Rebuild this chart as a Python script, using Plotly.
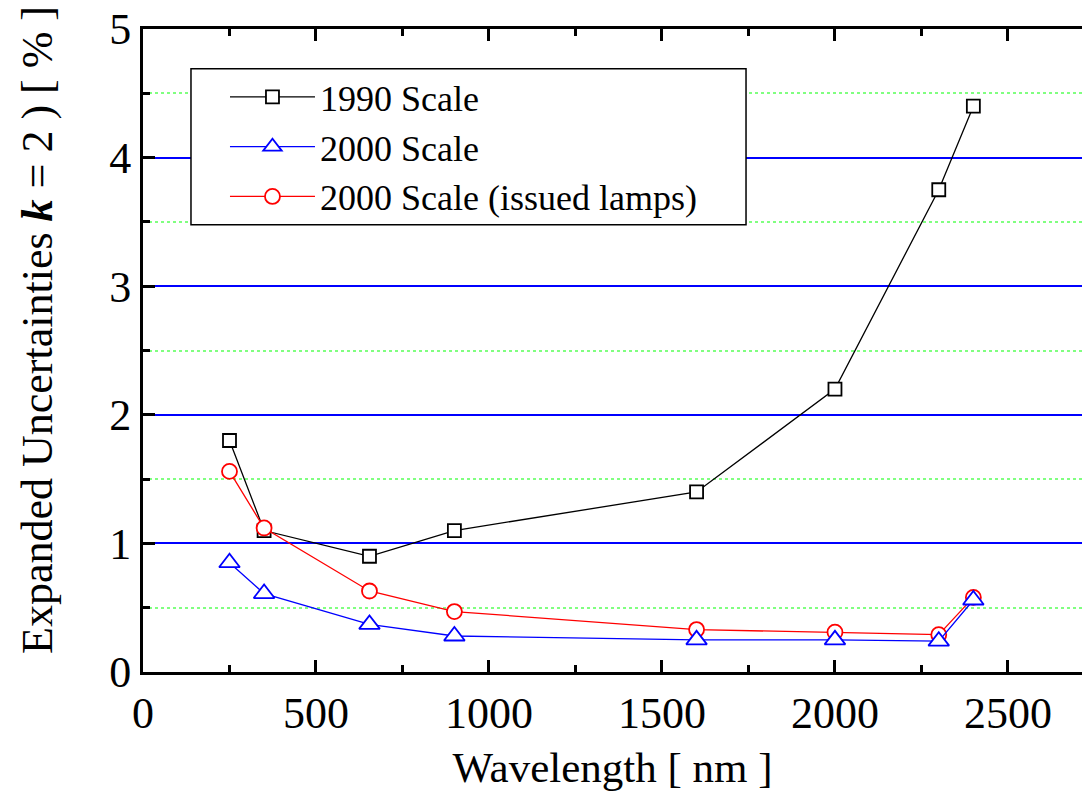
import plotly.graph_objects as go

# Wavelengths (nm) and expanded uncertainties (k = 2, %)
wavelength = [250, 350, 654.6, 900, 1600, 2000, 2300, 2400]
scale_1990 = [1.80, 1.10, 0.90, 1.10, 1.40, 2.20, 3.75, 4.40]
scale_2000 = [0.85, 0.61, 0.37, 0.28, 0.25, 0.25, 0.24, 0.56]
scale_2000_lamps = [1.56, 1.12, 0.63, 0.47, 0.33, 0.31, 0.29, 0.58]

# (name, values, colour, symbol, size, legend rank); drawn in this order
series = [
    ("1990 Scale", scale_1990, "#000000", "square", 13, 1),
    ("2000 Scale (issued lamps)", scale_2000_lamps, "#ff0000", "circle", 15, 3),
    ("2000 Scale", scale_2000, "#0000ff", "triangle-up", 18, 2),
]

FONT = "Liberation Serif"

fig = go.Figure()
for name, vals, color, symbol, size, rank in series:
    fig.add_trace(go.Scatter(
        x=wavelength, y=vals, name=name, mode="lines+markers",
        legendrank=rank,
        line=dict(color=color, width=1.3),
        marker=dict(symbol=symbol, size=size, color="white",
                    line=dict(color=color, width=1.8)),
    ))

# Framed legend panel
fig.add_shape(
    type="rect", xref="paper", yref="paper",
    x0=0.0511, x1=0.6422, y0=0.6954, y1=0.9382,
    line=dict(color="black", width=1.5), fillcolor="white", layer="above",
)

fig.update_layout(
    width=1082, height=793,
    margin=dict(l=143, r=0, t=29, b=121),
    plot_bgcolor="white", paper_bgcolor="white",
    font=dict(family=FONT, color="black", size=40),
    showlegend=True,
    legend=dict(
        x=0.0873, y=0.941, xanchor="left", yanchor="top",
        bgcolor="rgba(0,0,0,0)", borderwidth=0,
        font=dict(family=FONT, size=36, color="black"),
        itemwidth=85, tracegroupgap=0,
    ),
    annotations=[dict(
        text="Expanded Uncertainties <b><i>k</i></b> = 2 ) [ % ]",
        xref="paper", yref="paper", x=-0.1118, y=0.532,
        xanchor="center", yanchor="middle", textangle=-90,
        showarrow=False, font=dict(family=FONT, size=44, color="black"),
    )],
)

fig.update_xaxes(
    range=[0, 2714], tickvals=[0, 500, 1000, 1500, 2000, 2500],
    showgrid=False, zeroline=False,
    showline=True, linecolor="black", linewidth=3, mirror="ticks",
    ticks="inside", ticklen=12, tickwidth=3, tickcolor="black",
    tickfont=dict(family=FONT, size=44),
    minor=dict(ticks="inside", ticklen=7, tickwidth=2.5, tickcolor="black",
               tickvals=[250, 750, 1250, 1750, 2250], showgrid=False),
    title=dict(text="Wavelength [ nm ]", font=dict(family=FONT, size=43),
               standoff=16),
)

fig.update_yaxes(
    range=[0, 5], tickvals=[0, 1, 2, 3, 4, 5],
    showgrid=True, gridcolor="#0000ff", gridwidth=1.5,
    zeroline=False,
    showline=True, linecolor="black", linewidth=3, mirror=False,
    ticks="inside", ticklen=12, tickwidth=3, tickcolor="black",
    tickfont=dict(family=FONT, size=44),
    minor=dict(ticks="inside", ticklen=7, tickwidth=2.5, tickcolor="black",
               tickvals=[0.5, 1.5, 2.5, 3.5, 4.5], showgrid=True,
               gridcolor="#80ff80", gridwidth=1.5, griddash="dot"),
)

fig.write_html("out.html")
